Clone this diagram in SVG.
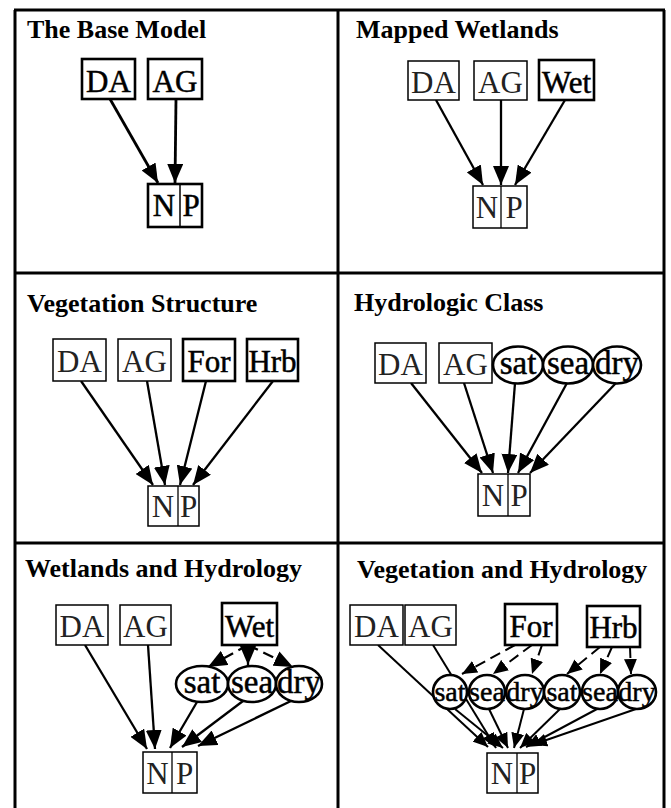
<svg xmlns="http://www.w3.org/2000/svg" width="671" height="808" viewBox="0 0 671 808">
  <style>
    .frame { stroke: #000; stroke-width: 3; fill: none; }
    .title { font-family: "Liberation Serif", "Times New Roman", serif; font-size: 26px; font-weight: bold; fill: #000; }
    .lbl { font-family: "Liberation Serif", "Times New Roman", serif; font-size: 31px; text-anchor: middle; fill: #000; stroke: #000; stroke-width: 0.5; }
    .lbl.old { fill: #222; stroke: none; }
    .lbl.sm { font-size: 28px; }
    .lbl.el { font-size: 33px; }
    .box { fill: #fff; stroke: #000; stroke-width: 1.5; }
    .box.bold { stroke-width: 2.6; }
    .edge { stroke: #000; stroke-width: 2.3; fill: none; marker-end: url(#ah); }
    .edge.thick { stroke-width: 2.8; }
    .edge.dash { stroke-dasharray: 11 6; }
    .edge.s { marker-end: url(#ahs); stroke-width: 2; }
  </style>
  <defs>
    <marker id="ah" markerUnits="userSpaceOnUse" markerWidth="19" markerHeight="16" refX="19" refY="8" orient="auto">
      <path d="M0,0 L19,8 L0,16 z" fill="#000"/>
    </marker>
    <marker id="ahs" markerUnits="userSpaceOnUse" markerWidth="15" markerHeight="13" refX="15" refY="6.5" orient="auto">
      <path d="M0,0 L15,6.5 L0,13 z" fill="#000"/>
    </marker>
  </defs>

  <rect width="671" height="808" fill="#fff"/>

  <!-- panel frame -->
  <g id="frame" class="frame">
    <line x1="14" y1="10" x2="665" y2="10"/>
    <line x1="15" y1="10" x2="15" y2="808"/>
    <line x1="338" y1="10" x2="338" y2="808"/>
    <line x1="664" y1="10" x2="664" y2="808"/>
    <line x1="15" y1="273" x2="664" y2="273"/>
    <line x1="15" y1="543" x2="664" y2="543"/>
  </g>

  <!-- panel titles -->
  <g id="titles">
    <text class="title" x="27" y="38">The Base Model</text>
    <text class="title" x="356" y="38">Mapped Wetlands</text>
    <text class="title" x="27" y="312">Vegetation Structure</text>
    <text class="title" x="354" y="311">Hydrologic Class</text>
    <text class="title" x="25" y="577">Wetlands and Hydrology</text>
    <text class="title" x="357" y="578">Vegetation and Hydrology</text>
  </g>

  <!-- connectors -->
  <g id="connectors">
    <!-- The Base Model -->
    <line class="edge thick" x1="110" y1="99" x2="158" y2="183"/>
    <line class="edge thick" x1="176" y1="99" x2="175" y2="183"/>
    <!-- Mapped Wetlands -->
    <line class="edge" x1="436" y1="100" x2="483" y2="185"/>
    <line class="edge" x1="501" y1="100" x2="501" y2="185"/>
    <line class="edge" x1="565" y1="100" x2="515" y2="185"/>
    <!-- Vegetation Structure -->
    <line class="edge" x1="81" y1="381" x2="153" y2="485"/>
    <line class="edge" x1="147" y1="381" x2="165" y2="485"/>
    <line class="edge" x1="206" y1="381" x2="180" y2="485"/>
    <line class="edge" x1="273" y1="381" x2="193" y2="485"/>
    <!-- Hydrologic Class -->
    <line class="edge" x1="411" y1="383" x2="482" y2="473"/>
    <line class="edge" x1="464" y1="383" x2="493" y2="473"/>
    <line class="edge" x1="515" y1="383" x2="508" y2="473"/>
    <line class="edge" x1="567" y1="383" x2="518" y2="473"/>
    <line class="edge" x1="616" y1="383" x2="530" y2="473"/>
    <!-- Wetlands and Hydrology -->
    <line class="edge" x1="85" y1="645" x2="147" y2="749"/>
    <line class="edge" x1="148" y1="645" x2="155" y2="749"/>
    <line class="edge" x1="197" y1="702" x2="170" y2="748"/>
    <line class="edge" x1="243" y1="701" x2="182" y2="747"/>
    <line class="edge" x1="293" y1="700" x2="198" y2="746"/>
    <line class="edge dash" x1="248" y1="645" x2="208" y2="667"/>
    <line class="edge dash" x1="248" y1="645" x2="248" y2="665"/>
    <line class="edge dash" x1="248" y1="645" x2="293" y2="667"/>
    <!-- Vegetation and Hydrology -->
    <line class="edge s" x1="378" y1="645" x2="488" y2="747"/>
    <line class="edge s" x1="433" y1="645" x2="496" y2="748"/>
    <line class="edge s" x1="455" y1="709" x2="503" y2="748"/>
    <line class="edge s" x1="489" y1="709" x2="508" y2="748"/>
    <line class="edge s" x1="524" y1="709" x2="514" y2="748"/>
    <line class="edge s" x1="560" y1="709" x2="520" y2="748"/>
    <line class="edge s" x1="597" y1="709" x2="526" y2="747"/>
    <line class="edge s" x1="636" y1="709" x2="532" y2="745"/>
    <line class="edge s dash" x1="515" y1="645" x2="462" y2="674"/>
    <line class="edge s dash" x1="532" y1="645" x2="493" y2="674"/>
    <line class="edge s dash" x1="542" y1="645" x2="532" y2="674"/>
    <line class="edge s dash" x1="600" y1="647" x2="567" y2="674"/>
    <line class="edge s dash" x1="612" y1="647" x2="600" y2="674"/>
    <line class="edge s dash" x1="630" y1="647" x2="631" y2="674"/>
  </g>

  <!-- The Base Model -->
  <g id="p1-DA"><rect class="box bold" x="82" y="59" width="53" height="40"/><text class="lbl" x="108.5" y="92">DA</text></g>
  <g id="p1-AG"><rect class="box bold" x="148" y="59" width="54" height="40"/><text class="lbl" x="175" y="92">AG</text></g>
  <g id="p1-NP"><rect class="box bold" x="148" y="184" width="54" height="43"/><line x1="180" y1="184" x2="180" y2="227" stroke="#000" stroke-width="1.5"/><text class="lbl" x="164" y="216">N</text><text class="lbl" x="191" y="216">P</text></g>

  <!-- Mapped Wetlands -->
  <g id="p2-DA"><rect class="box" x="408" y="61" width="51" height="39"/><text class="lbl old" x="433.5" y="93">DA</text></g>
  <g id="p2-AG"><rect class="box" x="474" y="61" width="53" height="39"/><text class="lbl old" x="500.5" y="93">AG</text></g>
  <g id="p2-Wet"><rect class="box bold" x="539" y="60" width="55" height="40"/><text class="lbl" x="566.5" y="93">Wet</text></g>
  <g id="p2-NP"><rect class="box" x="473" y="186" width="54" height="42"/><line x1="501" y1="186" x2="501" y2="228" stroke="#000" stroke-width="1.3"/><text class="lbl old" x="487" y="218">N</text><text class="lbl old" x="514" y="218">P</text></g>

  <!-- Vegetation Structure -->
  <g id="p3-DA"><rect class="box" x="53" y="339" width="53" height="42"/><text class="lbl old" x="79.5" y="372">DA</text></g>
  <g id="p3-AG"><rect class="box" x="118" y="339" width="53" height="42"/><text class="lbl old" x="144.5" y="372">AG</text></g>
  <g id="p3-For"><rect class="box bold" x="183" y="339" width="52" height="42"/><text class="lbl" x="209" y="372">For</text></g>
  <g id="p3-Hrb"><rect class="box bold" x="247" y="339" width="51" height="42"/><text class="lbl" x="272.5" y="372">Hrb</text></g>
  <g id="p3-NP"><rect class="box" x="148" y="486" width="51" height="40"/><line x1="178" y1="486" x2="178" y2="526" stroke="#000" stroke-width="1.3"/><text class="lbl old" x="163" y="517">N</text><text class="lbl old" x="188.5" y="517">P</text></g>

  <!-- Hydrologic Class -->
  <g id="p4-DA"><rect class="box" x="375" y="343" width="51" height="40"/><text class="lbl old" x="400.5" y="375">DA</text></g>
  <g id="p4-AG"><rect class="box" x="439" y="343" width="53" height="40"/><text class="lbl old" x="465.5" y="375">AG</text></g>
  <g id="p4-sat"><ellipse class="box bold" cx="518" cy="365" rx="25" ry="18.5"/><text class="lbl el" x="518" y="374">sat</text></g>
  <g id="p4-sea"><ellipse class="box bold" cx="568" cy="365" rx="25" ry="18.5"/><text class="lbl el" x="568" y="374">sea</text></g>
  <g id="p4-dry"><ellipse class="box bold" cx="617" cy="365" rx="24" ry="18.5"/><text class="lbl el" x="617" y="374">dry</text></g>
  <g id="p4-NP"><rect class="box" x="478" y="474" width="52" height="42"/><line x1="508" y1="474" x2="508" y2="516" stroke="#000" stroke-width="1.3"/><text class="lbl old" x="493" y="506">N</text><text class="lbl old" x="519" y="506">P</text></g>

  <!-- Wetlands and Hydrology -->
  <g id="p5-DA"><rect class="box" x="56" y="605" width="52" height="40"/><text class="lbl old" x="82" y="637">DA</text></g>
  <g id="p5-AG"><rect class="box" x="120" y="605" width="51" height="40"/><text class="lbl old" x="145.5" y="637">AG</text></g>
  <g id="p5-Wet"><rect class="box bold" x="222" y="603" width="55" height="42"/><text class="lbl" x="249.5" y="637">Wet</text></g>
  <g id="p5-sat"><ellipse class="box bold" cx="202" cy="684" rx="26" ry="18"/><text class="lbl el" x="202" y="693">sat</text></g>
  <g id="p5-sea"><ellipse class="box bold" cx="252" cy="684" rx="24" ry="18"/><text class="lbl el" x="252" y="693">sea</text></g>
  <g id="p5-dry"><ellipse class="box bold" cx="299" cy="684" rx="23" ry="18"/><text class="lbl el" x="299" y="693">dry</text></g>
  <g id="p5-NP"><rect class="box" x="143" y="752" width="54" height="41"/><line x1="172" y1="752" x2="172" y2="793" stroke="#000" stroke-width="1.3"/><text class="lbl old" x="157.5" y="784">N</text><text class="lbl old" x="184.5" y="784">P</text></g>

  <!-- Vegetation and Hydrology -->
  <g id="p6-DA"><rect class="box" x="350" y="605" width="53" height="40"/><text class="lbl old" x="376.5" y="637">DA</text></g>
  <g id="p6-AG"><rect class="box" x="405" y="605" width="51" height="40"/><text class="lbl old" x="430.5" y="637">AG</text></g>
  <g id="p6-For"><rect class="box bold" x="505" y="604" width="52" height="41"/><text class="lbl" x="531" y="637">For</text></g>
  <g id="p6-Hrb"><rect class="box bold" x="587" y="606" width="53" height="41"/><text class="lbl" x="613.5" y="638">Hrb</text></g>
  <g id="p6-sat1"><ellipse class="box bold" cx="450" cy="692" rx="17" ry="17"/><text class="lbl sm" x="450" y="701">sat</text></g>
  <g id="p6-sea1"><ellipse class="box bold" cx="487" cy="692" rx="18" ry="17"/><text class="lbl sm" x="487" y="701">sea</text></g>
  <g id="p6-dry1"><ellipse class="box bold" cx="525" cy="692" rx="19" ry="17"/><text class="lbl sm" x="525" y="701">dry</text></g>
  <g id="p6-sat2"><ellipse class="box bold" cx="562" cy="692" rx="18" ry="17"/><text class="lbl sm" x="562" y="701">sat</text></g>
  <g id="p6-sea2"><ellipse class="box bold" cx="600" cy="692" rx="18" ry="17"/><text class="lbl sm" x="600" y="701">sea</text></g>
  <g id="p6-dry2"><ellipse class="box bold" cx="637" cy="692" rx="19" ry="17"/><text class="lbl sm" x="637" y="701">dry</text></g>
  <g id="p6-NP"><rect class="box" x="487" y="753" width="51" height="40"/><line x1="517" y1="753" x2="517" y2="793" stroke="#000" stroke-width="1.3"/><text class="lbl old" x="502" y="784">N</text><text class="lbl old" x="527.5" y="784">P</text></g>
</svg>
